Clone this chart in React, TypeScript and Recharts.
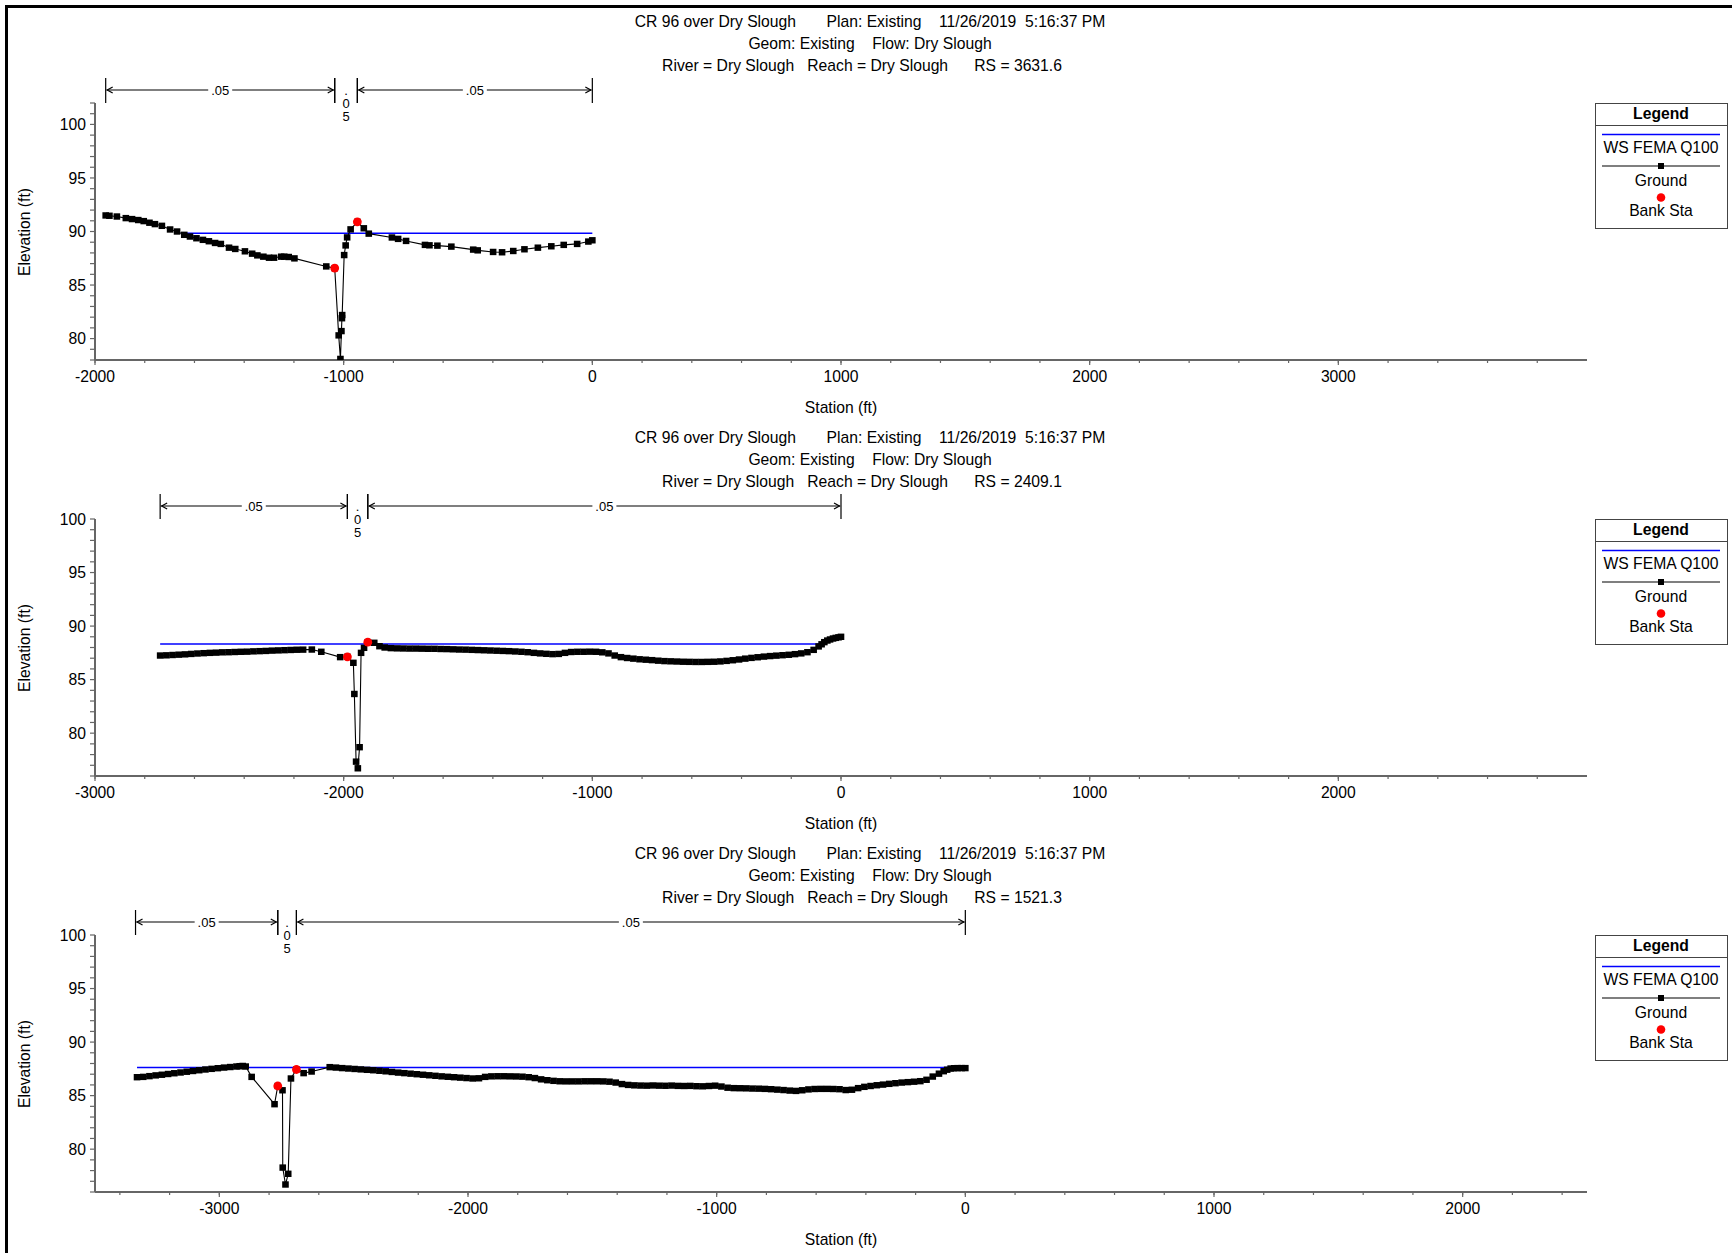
import React from 'react';
import { ComposedChart, Line, Scatter, XAxis, YAxis, ReferenceLine } from 'recharts';

const FONT = '"Liberation Sans", Arial, Helvetica, sans-serif';
const AXIS = '#666666';

// ---------- DATA ----------
const plotTitle1 = 'CR 96 over Dry Slough       Plan: Existing    11/26/2019  5:16:37 PM';
const plotTitle2 = 'Geom: Existing    Flow: Dry Slough';
const riverReach = 'River = Dry Slough   Reach = Dry Slough      RS = ';
const riverStations = ['3631.6', '2409.1', '1521.3'];
const seriesNames = ['WS FEMA Q100', 'Ground', 'Bank Sta'];
const xAxisTitle = 'Station (ft)';
const yAxisTitle = 'Elevation (ft)';

// RS 3631.6
const ground3631 = [
  [-1957, 91.5], [-1942, 91.47], [-1912, 91.4], [-1876, 91.25], [-1851, 91.16], [-1826, 91.07],
  [-1804, 90.97], [-1781, 90.82], [-1759, 90.69], [-1731, 90.53], [-1698, 90.19], [-1670, 90.0],
  [-1641, 89.69], [-1618, 89.53], [-1592, 89.37], [-1566, 89.22], [-1542, 89.09], [-1517, 88.93],
  [-1494, 88.84], [-1461, 88.49], [-1436, 88.37], [-1397, 88.15], [-1368, 87.93], [-1347, 87.77],
  [-1323, 87.65], [-1300, 87.55], [-1280, 87.55], [-1251, 87.65], [-1239, 87.65], [-1221, 87.62],
  [-1198, 87.49], [-1070, 86.74], [-1036, 86.58], [-1020, 80.3], [-1013, 78.1], [-1009, 80.7],
  [-1007, 81.9], [-1006, 82.2], [-998, 87.8], [-992, 88.7], [-986, 89.45], [-972, 90.2],
  [-945, 90.9], [-919, 90.3], [-899, 89.8], [-806, 89.44], [-781, 89.31], [-749, 89.12],
  [-673, 88.75], [-655, 88.71], [-623, 88.68], [-567, 88.59], [-479, 88.31], [-461, 88.24],
  [-399, 88.09], [-363, 88.06], [-318, 88.18], [-273, 88.34], [-219, 88.49], [-165, 88.62],
  [-115, 88.75], [-61, 88.84], [-16, 89.06], [0, 89.18],
];
const bank3631 = [[-1036, 86.58], [-945, 90.9]];
const ws3631 = [[-1655, 89.83], [0, 89.83]];
const nSta3631 = [-1957, -1036, -945, 0];
const nVal3631 = ['.05', '.05', '.05'];

// RS 2409.1
const ground2409 = [
  [-2738, 87.25], [-2713, 87.27], [-2688, 87.3], [-2663, 87.33], [-2638, 87.36], [-2613, 87.4],
  [-2588, 87.44], [-2563, 87.47], [-2538, 87.5], [-2513, 87.52], [-2488, 87.55], [-2463, 87.56],
  [-2438, 87.58], [-2413, 87.6], [-2388, 87.61], [-2363, 87.64], [-2338, 87.66], [-2313, 87.68],
  [-2288, 87.71], [-2263, 87.73], [-2238, 87.75], [-2213, 87.77], [-2188, 87.79], [-2163, 87.8],
  [-2128, 87.81], [-2090, 87.6], [-2014, 87.1], [-1985, 87.13], [-1961, 86.57], [-1957, 83.66],
  [-1950, 77.34], [-1943, 76.72], [-1936, 78.69], [-1930, 87.5], [-1918, 87.97], [-1903, 88.5],
  [-1877, 88.44], [-1856, 88.12], [-1835, 88.0], [-1810, 87.94], [-1785, 87.92], [-1760, 87.91],
  [-1735, 87.9], [-1710, 87.9], [-1685, 87.89], [-1660, 87.88], [-1635, 87.88], [-1610, 87.86],
  [-1585, 87.85], [-1560, 87.83], [-1535, 87.81], [-1510, 87.8], [-1485, 87.78], [-1460, 87.76],
  [-1435, 87.74], [-1410, 87.72], [-1385, 87.7], [-1360, 87.68], [-1335, 87.66], [-1310, 87.63],
  [-1285, 87.6], [-1260, 87.56], [-1235, 87.5], [-1210, 87.45], [-1185, 87.41], [-1160, 87.38],
  [-1135, 87.4], [-1110, 87.5], [-1085, 87.58], [-1060, 87.6], [-1035, 87.6], [-1010, 87.61],
  [-985, 87.6], [-960, 87.55], [-935, 87.45], [-910, 87.25], [-885, 87.1], [-860, 87.02],
  [-835, 86.96], [-810, 86.9], [-785, 86.86], [-760, 86.82], [-735, 86.77], [-710, 86.73],
  [-685, 86.71], [-660, 86.69], [-635, 86.67], [-610, 86.66], [-585, 86.65], [-560, 86.65],
  [-535, 86.66], [-510, 86.67], [-485, 86.7], [-460, 86.75], [-435, 86.81], [-410, 86.88],
  [-385, 86.96], [-360, 87.03], [-335, 87.09], [-310, 87.15], [-285, 87.2], [-260, 87.24],
  [-235, 87.28], [-210, 87.32], [-185, 87.38], [-160, 87.45], [-135, 87.56], [-110, 87.78],
  [-90, 88.1], [-78, 88.3], [-67, 88.5], [-55, 88.65], [-44, 88.75], [-32, 88.84],
  [-21, 88.9], [-10, 88.95], [0, 89.0],
];
const bank2409 = [[-1985, 87.13], [-1903, 88.5]];
const ws2409 = [[-2738, 88.33], [-80, 88.33]];
const nSta2409 = [-2738, -1985, -1903, 0];
const nVal2409 = ['.05', '.05', '.05'];

// RS 1521.3
const ground1521 = [
  [-3331, 86.72], [-3306, 86.75], [-3281, 86.82], [-3256, 86.89], [-3231, 86.95], [-3206, 87.02],
  [-3181, 87.09], [-3156, 87.16], [-3131, 87.23], [-3106, 87.3], [-3081, 87.37], [-3056, 87.44],
  [-3031, 87.5], [-3006, 87.56], [-2981, 87.62], [-2956, 87.67], [-2931, 87.72], [-2918, 87.75],
  [-2906, 87.77], [-2894, 87.72], [-2870, 86.75], [-2778, 84.2], [-2765, 85.9], [-2746, 85.5],
  [-2745, 78.28], [-2734, 76.7], [-2723, 77.7], [-2712, 86.6], [-2690, 87.44], [-2661, 87.1],
  [-2629, 87.25], [-2556, 87.66], [-2531, 87.62], [-2506, 87.57], [-2481, 87.53], [-2456, 87.49],
  [-2431, 87.45], [-2406, 87.41], [-2381, 87.37], [-2356, 87.32], [-2331, 87.27], [-2306, 87.21],
  [-2281, 87.15], [-2256, 87.1], [-2231, 87.05], [-2206, 87.0], [-2181, 86.95], [-2156, 86.9],
  [-2131, 86.85], [-2106, 86.8], [-2081, 86.76], [-2056, 86.72], [-2031, 86.68], [-2006, 86.64],
  [-1981, 86.6], [-1956, 86.62], [-1931, 86.75], [-1906, 86.8], [-1881, 86.81], [-1856, 86.81],
  [-1831, 86.8], [-1806, 86.79], [-1781, 86.77], [-1756, 86.72], [-1731, 86.64], [-1706, 86.52],
  [-1681, 86.44], [-1656, 86.38], [-1631, 86.34], [-1606, 86.33], [-1581, 86.33], [-1556, 86.33],
  [-1531, 86.34], [-1506, 86.34], [-1481, 86.34], [-1456, 86.33], [-1431, 86.3], [-1406, 86.22],
  [-1381, 86.08], [-1356, 86.0], [-1331, 85.96], [-1306, 85.94], [-1281, 85.93], [-1256, 85.95],
  [-1231, 85.93], [-1206, 85.92], [-1181, 85.94], [-1156, 85.91], [-1131, 85.9], [-1106, 85.91],
  [-1081, 85.88], [-1056, 85.87], [-1031, 85.9], [-1006, 85.93], [-981, 85.85], [-956, 85.74],
  [-931, 85.7], [-906, 85.69], [-881, 85.68], [-856, 85.66], [-831, 85.65], [-806, 85.63],
  [-781, 85.6], [-756, 85.56], [-731, 85.52], [-706, 85.47], [-681, 85.44], [-656, 85.5],
  [-631, 85.58], [-606, 85.62], [-581, 85.63], [-556, 85.63], [-531, 85.62], [-506, 85.6],
  [-481, 85.52], [-456, 85.55], [-431, 85.7], [-406, 85.82], [-381, 85.9], [-356, 85.97],
  [-331, 86.03], [-306, 86.1], [-281, 86.16], [-256, 86.22], [-231, 86.26], [-206, 86.3],
  [-181, 86.35], [-156, 86.48], [-131, 86.78], [-106, 87.05], [-87, 87.28], [-73, 87.42],
  [-59, 87.53], [-45, 87.56], [-31, 87.57], [-15, 87.57], [0, 87.57],
];
const bank1521 = [[-2765, 85.9], [-2690, 87.44]];
const ws1521 = [[-3331, 87.63], [0, 87.63]];
const nSta1521 = [-3337, -2765, -2690, 0];
const nVal1521 = ['.05', '.05', '.05'];

const xDomains = [[-2000, 4000], [-3000, 3000], [-3500, 2500]];
const xTickStarts = [-2000, -3000, -3400];
const xTickEnds = [3800, 2800, 2400];
const yDomains = [[78, 102], [76, 100], [76, 100]];

// ---------- LAYOUT ----------
const W = 1732;
const H = 416;
const PLOT_TOP = 103;
const AX_H = 40;
const MB = 16;
const YW = 95;
const MR = 145;
const X_TICK_SIZE = 3;
const X_TICK_MARGIN = 8;
const FS = 15.7;

const toPts = (a: number[][]) => a.map(([st, elev]) => ({ st, elev }));
const range = (a: number, b: number, step: number) => {
  const r: number[] = [];
  for (let v = a; v <= b + 1e-9; v += step) r.push(Math.round(v * 1000) / 1000);
  return r;
};

const SquareDot = (p: any) => {
  if (p.cx == null || p.cy == null) return <g key={p.key} />;
  return <rect key={p.key} x={p.cx - 3.3} y={p.cy - 3.2} width={6.6} height={6.4} fill="#000" />;
};
const BankDot = (p: any) => <circle cx={p.cx} cy={p.cy} r={4.4} fill="#ff0000" />;

const XTick = (p: any) => {
  const { x, y, payload } = p;
  const v = payload.value;
  const major = Math.abs(v % 1000) < 1e-6;
  const axisY = y - X_TICK_SIZE - X_TICK_MARGIN;
  if (!major) return <g />;
  return (
    <g>
      <line x1={x} x2={x} y1={axisY} y2={axisY + 5} stroke={AXIS} strokeWidth={1.2} />
      <text x={x} y={axisY + 11} dy="0.71em" textAnchor="middle" fontSize={FS} fontFamily={FONT} fill="#000">
        {v}
      </text>
    </g>
  );
};

const makeBracket = (label: string) => (p: any) => {
  const left = Math.min(p.x1, p.x2);
  const right = Math.max(p.x1, p.x2);
  const base = Math.min(p.y1, p.y2);
  const ay = base - 13;
  const top = base - 25;
  const mid = (left + right) / 2;
  const narrow = right - left < 40;
  return (
    <g>
      <line x1={left} x2={left} y1={top} y2={base} stroke="#000" strokeWidth={1.2} />
      <line x1={right} x2={right} y1={top} y2={base} stroke="#000" strokeWidth={1.2} />
      {narrow ? (
        <g>
          {label.split('').map((c, i) => (
            <text key={i} x={mid} y={ay + i * 13} dominantBaseline="central" textAnchor="middle"
              fontSize={13} fontFamily={FONT} fill="#000">{c}</text>
          ))}
        </g>
      ) : (
        <g>
          <line x1={left + 1} x2={right - 1} y1={ay} y2={ay} stroke="#000" strokeWidth={1.2} />
          <polyline points={`${left + 7},${ay - 3} ${left + 1.5},${ay} ${left + 7},${ay + 3}`} fill="none" stroke="#000" strokeWidth={1.2} />
          <polyline points={`${right - 7},${ay - 3} ${right - 1.5},${ay} ${right - 7},${ay + 3}`} fill="none" stroke="#000" strokeWidth={1.2} />
          <rect x={mid - 12} y={ay - 7} width={24} height={14} fill="#fff" />
          <text x={mid} y={ay} dominantBaseline="central" textAnchor="middle" fontSize={13} fontFamily={FONT} fill="#000">{label}</text>
        </g>
      )}
    </g>
  );
};

const panels = [
  { rs: riverStations[0], ground: ground3631, bank: bank3631, ws: ws3631, nSta: nSta3631, nVal: nVal3631 },
  { rs: riverStations[1], ground: ground2409, bank: bank2409, ws: ws2409, nSta: nSta2409, nVal: nVal2409 },
  { rs: riverStations[2], ground: ground1521, bank: bank1521, ws: ws1521, nSta: nSta1521, nVal: nVal1521 },
];

const LegendBox = ({ top }: { top: number }) => (
  <svg style={{ position: 'absolute', left: 1595, top }} width={134} height={128}>
    <rect x={0.5} y={0.5} width={132} height={125} fill="#fff" stroke="#444" strokeWidth={1} />
    <text x={66} y={10} textAnchor="middle" dominantBaseline="central" fontWeight="bold" fontSize={FS} fontFamily={FONT}>Legend</text>
    <line x1={0.5} x2={132.5} y1={22.5} y2={22.5} stroke="#444" />
    <line x1={7} x2={125} y1={31.5} y2={31.5} stroke="#0000ff" strokeWidth={1.4} />
    <text x={66} y={44.5} textAnchor="middle" dominantBaseline="central" fontSize={FS} fontFamily={FONT}>{seriesNames[0]}</text>
    <line x1={7} x2={125} y1={63} y2={63} stroke="#000" strokeWidth={1.2} />
    <rect x={63} y={60} width={6} height={6} fill="#000" />
    <text x={66} y={77} textAnchor="middle" dominantBaseline="central" fontSize={FS} fontFamily={FONT}>{seriesNames[1]}</text>
    <circle cx={66} cy={94.5} r={4.3} fill="#ff0000" />
    <text x={66} y={107.5} textAnchor="middle" dominantBaseline="central" fontSize={FS} fontFamily={FONT}>{seriesNames[2]}</text>
  </svg>
);

const textStyle = (cx: number, cy: number): React.CSSProperties => ({
  position: 'absolute',
  left: cx,
  top: cy,
  transform: 'translate(-50%, -50%)',
  whiteSpace: 'pre',
  fontFamily: FONT,
  fontSize: FS,
  lineHeight: '18px',
  color: '#000',
});

export default function App() {
  return (
    <div style={{ position: 'absolute', left: 0, top: 0, width: 1732, height: 1253, overflow: 'hidden', background: '#fff', fontFamily: FONT }}>
      <div style={{ position: 'absolute', left: 5, top: 5, width: 1800, height: 1300, borderLeft: '3px solid #000', borderTop: '3px solid #000' }} />
      {panels.map((pn, i) => {
        const off = i * H;
        const yDom = yDomains[i];
        const yTicks = range(yDom[0], yDom[1], 1);
        const xTicks = range(xTickStarts[i], xTickEnds[i], 200);
        return (
          <React.Fragment key={i}>
            <div style={textStyle(870, off + 21.7)}>{plotTitle1}</div>
            <div style={textStyle(870, off + 43.5)}>{plotTitle2}</div>
            <div style={textStyle(862, off + 65.7)}>{riverReach + pn.rs}</div>
            <div style={textStyle(841, off + 407.6)}>{xAxisTitle}</div>
            <div style={{ ...textStyle(24.5, off + 232), transform: 'translate(-50%, -50%) rotate(-90deg)' }}>{yAxisTitle}</div>
            <div style={{ position: 'absolute', left: 0, top: off, width: W, height: H }}>
              <ComposedChart width={W} height={H} margin={{ top: PLOT_TOP, right: MR, bottom: MB, left: 0 }}>
                <XAxis
                  type="number"
                  dataKey="st"
                  domain={xDomains[i]}
                  ticks={xTicks}
                  interval={0}
                  allowDataOverflow
                  height={AX_H}
                  tickSize={X_TICK_SIZE}
                  tickMargin={X_TICK_MARGIN}
                  axisLine={{ stroke: AXIS, strokeWidth: 2 }}
                  tickLine={{ stroke: AXIS, strokeWidth: 1.2 }}
                  tick={(p: any) => <XTick {...p} />}
                />
                <YAxis
                  type="number"
                  domain={yDom}
                  ticks={yTicks}
                  interval={0}
                  allowDataOverflow
                  width={YW}
                  tickSize={5}
                  tickMargin={4}
                  axisLine={{ stroke: AXIS, strokeWidth: 2 }}
                  tickLine={{ stroke: AXIS, strokeWidth: 1.2 }}
                  tick={{ fill: '#000', fontSize: FS, fontFamily: FONT }}
                  tickFormatter={(v: number) => (v % 5 === 0 ? String(v) : '')}
                />
                {pn.nVal.map((lab, k) => (
                  <ReferenceLine
                    key={`n${k}`}
                    segment={[{ x: pn.nSta[k], y: yDom[1] }, { x: pn.nSta[k + 1], y: yDom[1] }]}
                    ifOverflow="visible"
                    stroke="#000"
                    shape={makeBracket(lab)}
                  />
                ))}
                <Line data={toPts(pn.ws)} dataKey="elev" stroke="#0000ff" strokeWidth={1.5} dot={false} activeDot={false} isAnimationActive={false} />
                <Line data={toPts(pn.ground)} dataKey="elev" stroke="#000" strokeWidth={1.1} dot={SquareDot} activeDot={false} isAnimationActive={false} />
                <Scatter data={toPts(pn.bank)} dataKey="elev" shape={BankDot} isAnimationActive={false} />
              </ComposedChart>
            </div>
            <LegendBox top={off + 103} />
          </React.Fragment>
        );
      })}
    </div>
  );
}
